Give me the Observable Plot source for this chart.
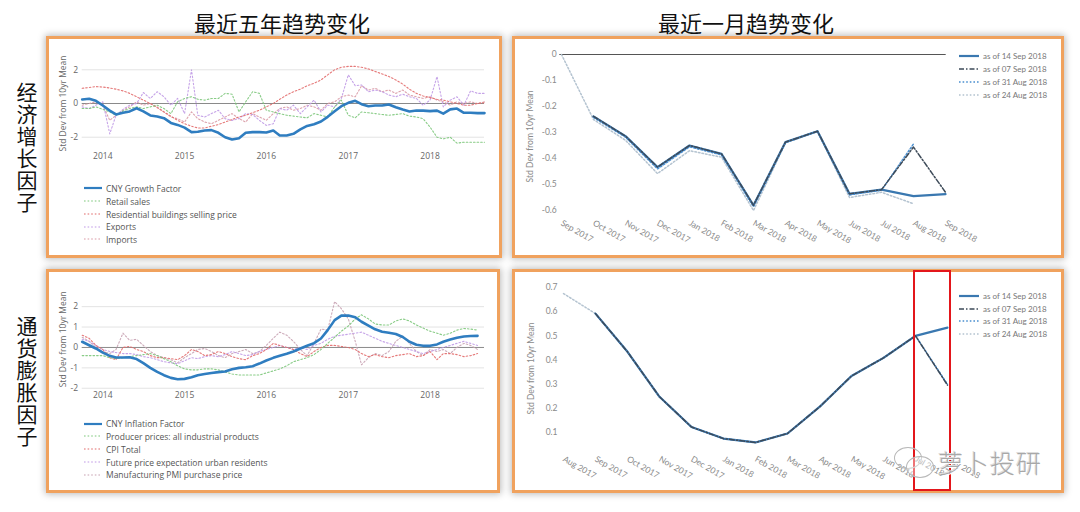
<!DOCTYPE html>
<html><head><meta charset="utf-8">
<script src="https://cdn.jsdelivr.net/npm/d3@7"></script>
<script src="https://cdn.jsdelivr.net/npm/@observablehq/plot@0.6"></script>
<style>
body{margin:0;width:1080px;height:512px;position:relative;background:#fff;overflow:hidden;font-family:"Noto Sans CJK SC",sans-serif}
.panel{position:absolute;box-sizing:border-box;border:3px solid #f0a25e;background:#fff;box-shadow:0 0 7px 1px rgba(0,0,0,0.28)}
.title{position:absolute;font-size:22px;line-height:28px;color:#111;text-align:center;width:220px}
.vlab{position:absolute;writing-mode:vertical-rl;text-orientation:upright;font-size:21px;letter-spacing:1px;color:#111;line-height:24px}
.leg{position:absolute;display:flex;align-items:center;white-space:nowrap;height:12px}
.leg svg{display:block}
</style></head><body>
<div class="title" style="left:172px;top:8px">最近五年趋势变化</div>
<div class="title" style="left:636px;top:8px">最近一月趋势变化</div>
<div class="vlab" style="left:15px;top:82px">经济增长因子</div>
<div class="vlab" style="left:15px;top:316px">通货膨胀因子</div>
<div class="panel" style="left:46px;top:36px;width:456px;height:222px"></div>
<div class="panel" style="left:512px;top:36px;width:552px;height:222px"></div>
<div class="panel" style="left:46px;top:269px;width:454px;height:224px"></div>
<div class="panel" style="left:512px;top:269px;width:552px;height:224px"></div>
<script>
// ---------- DATA ----------
const monthStart = new Date(Date.UTC(2013, 9, 1));   // Oct 2013
const monthEnd = new Date(Date.UTC(2018, 9, 1));     // exclusive -> Sep 2018
const months = d3.utcMonth.range(monthStart, monthEnd);
const yearTicks = [2014, 2015, 2016, 2017, 2018].map(y => new Date(Date.UTC(y, 0, 1)));

// Growth (5 years), Oct 2013 .. Sep 2018
const growthFactor = [0.24,0.28,0.16,
 -0.12,-0.42,-0.65,-0.55,-0.47,-0.28,-0.47,-0.71,-0.77,-0.87,-1.15,-1.27,
 -1.43,-1.7,-1.68,-1.6,-1.58,-1.74,-2.0,-2.14,-2.06,-1.74,-1.7,-1.7,
 -1.72,-1.6,-1.9,-1.9,-1.8,-1.54,-1.33,-1.23,-1.07,-0.79,-0.46,-0.16,
 0.04,0.16,-0.04,-0.16,-0.12,-0.12,-0.06,-0.22,-0.36,-0.47,-0.42,-0.42,
 -0.45,-0.42,-0.6,-0.35,-0.3,-0.55,-0.55,-0.57,-0.57];
const retailSales = [-0.3,-0.3,-0.2,
 -0.35,-0.5,-0.7,-0.45,-0.3,-0.2,-0.3,-0.2,-0.1,-0.3,-0.6,0.1,
 0.3,0.4,0.25,0.2,0.3,0.3,0.6,0.55,-0.5,0.1,0.7,0.6,
 -0.4,-0.5,-0.6,-0.7,-0.75,-0.8,-0.85,-0.6,-0.7,-0.8,-0.2,0.2,
 -0.7,-0.85,-0.5,-0.55,-0.6,-0.65,-0.7,-0.65,-0.6,-0.75,-0.8,-0.9,
 -1.4,-2.0,-2.1,-2.0,-2.35,-2.3,-2.3,-2.3,-2.3];
const residentialPrice = [0.9,0.95,1.0,
 0.98,0.92,0.85,0.75,0.6,0.4,0.2,0.0,-0.25,-0.5,-0.75,-1.0,
 -1.2,-1.35,-1.45,-1.45,-1.35,-1.25,-1.1,-0.95,-0.8,-0.7,-0.55,-0.4,
 -0.2,0.0,0.25,0.5,0.7,0.85,1.05,1.2,1.4,1.7,2.0,2.15,
 2.2,2.2,2.15,2.05,1.9,1.75,1.6,1.4,1.15,0.85,0.6,0.45,
 0.35,0.25,0.2,0.1,0.0,-0.1,-0.1,0.0,0.05];
const exportsS = [-0.2,-0.3,-0.1,
 0.1,-1.8,-0.7,-0.35,-0.1,0.0,0.65,0.3,0.7,0.4,-0.1,0.3,
 -0.6,2.0,-0.7,-0.8,-0.6,-0.4,-0.9,-1.0,-0.9,-0.6,-0.65,-1.0,
 -1.3,-1.2,-0.3,-0.4,-0.1,-0.6,-0.2,0.2,-0.5,-0.1,-0.2,0.3,
 1.7,1.05,1.1,0.7,0.8,0.7,0.5,0.4,0.55,0.4,0.3,-0.1,
 0.2,1.6,-0.2,0.2,0.4,-0.1,0.75,0.6,0.6];
const importsS = [-0.1,0.0,0.1,
 -0.1,-1.0,-0.7,-0.4,-0.2,0.1,-0.1,0.0,-0.2,-0.5,-0.8,-0.9,
 -1.1,-0.5,-0.9,-1.1,-1.2,-1.0,-0.8,-0.6,-0.9,-1.1,-0.6,-0.8,
 -1.0,-0.6,-0.3,-0.2,-0.4,-0.3,-0.1,-0.2,-0.4,0.0,0.1,0.4,
 0.5,0.4,1.05,0.8,0.9,0.7,0.8,0.6,0.8,0.5,0.4,0.3,
 0.4,0.2,0.1,-0.1,0.1,0.0,0.1,0.0,0.1];

// Inflation (5 years), Oct 2013 .. Aug 2018
const inflationFactor = [0.28,0.11,-0.05,
 -0.25,-0.41,-0.49,-0.49,-0.48,-0.57,-0.77,-1.0,-1.2,-1.36,-1.49,-1.56,
 -1.54,-1.46,-1.36,-1.3,-1.25,-1.21,-1.18,-1.07,-1.0,-0.97,-0.92,-0.79,
 -0.64,-0.51,-0.41,-0.31,-0.2,-0.05,0.08,0.21,0.44,0.85,1.34,1.56,
 1.57,1.48,1.26,1.07,0.89,0.77,0.72,0.66,0.51,0.28,0.13,0.08,
 0.08,0.15,0.28,0.39,0.48,0.54,0.56,0.57];
const producerPrices = [-0.4,-0.4,-0.4,
 -0.4,-0.5,-0.55,-0.5,-0.45,-0.4,-0.35,-0.3,-0.4,-0.55,-0.7,-0.9,
 -1.05,-1.1,-1.1,-1.05,-1.05,-1.1,-1.2,-1.3,-1.35,-1.35,-1.35,-1.35,
 -1.25,-1.15,-1.05,-0.9,-0.7,-0.6,-0.5,-0.35,-0.1,0.2,0.5,0.8,
 1.05,1.4,1.6,1.4,1.15,1.1,1.1,1.3,1.4,1.3,1.1,0.95,
 0.8,0.7,0.6,0.7,0.85,0.93,0.9,0.85];
const cpiTotal = [0.6,0.45,0.1,
 -0.1,-0.5,-0.6,0.0,0.05,-0.1,-0.2,-0.4,-0.5,-0.5,-0.55,-0.6,
 -0.4,-0.1,-0.2,-0.4,-0.35,-0.2,-0.3,-0.45,-0.55,-0.6,-0.4,-0.3,
 -0.1,0.2,0.1,0.0,-0.1,-0.3,-0.45,-0.2,0.0,0.1,0.1,0.05,
 0.0,-0.1,-0.3,-0.45,-0.35,-0.45,-0.5,-0.4,-0.35,-0.3,-0.45,-0.4,
 -0.2,-0.6,-0.3,-0.3,-0.35,-0.45,-0.4,-0.3];
const futurePriceExp = [0.4,0.3,0.1,
 -0.1,-0.2,-0.25,-0.3,-0.3,-0.35,-0.45,-0.5,-0.6,-0.7,-0.75,-0.8,
 -0.65,-0.5,-0.55,-0.45,-0.4,-0.45,-0.35,-0.2,-0.3,-0.4,-0.35,-0.2,
 -0.1,0.0,0.1,0.0,-0.1,0.0,-0.1,0.1,0.2,0.4,0.55,0.6,
 0.65,0.7,0.75,0.6,0.45,0.3,0.2,0.1,0.0,-0.1,-0.2,-0.3,
 -0.2,-0.1,0.0,0.1,0.2,0.3,0.2,0.1];
const pmiPurchase = [0.5,0.3,0.0,
 -0.2,-0.3,-0.1,0.7,0.35,0.4,0.1,-0.2,-0.4,-0.5,-0.6,-0.75,
 -0.5,-0.3,-0.1,-0.05,-0.2,-0.4,-0.5,-0.3,-0.2,-0.1,-0.3,-0.2,
 0.1,0.45,0.75,0.6,0.3,-0.1,-0.4,0.2,0.9,0.85,2.25,1.9,
 1.4,0.3,-0.85,-0.5,-0.3,-0.4,-0.2,0.3,0.55,0.2,-0.2,-0.4,
 -0.1,-0.2,-0.1,-0.3,0.0,0.2,0.1,-0.1];

// Last month (vintages)
const growthMonths = ["Sep 2017","Oct 2017","Nov 2017","Dec 2017","Jan 2018","Feb 2018","Mar 2018","Apr 2018","May 2018","Jun 2018","Jul 2018","Aug 2018","Sep 2018"];
const growth14Sep = [null,-0.238,-0.314,-0.433,-0.35,-0.382,-0.58,-0.337,-0.295,-0.536,-0.52,-0.545,-0.537];
const growth07Sep = [null,-0.238,-0.314,-0.433,-0.35,-0.382,-0.58,-0.337,-0.295,-0.536,-0.52,-0.356,-0.53];
const growth31Aug = [null,-0.242,-0.318,-0.44,-0.355,-0.386,-0.585,-0.338,-0.295,-0.54,-0.522,-0.344,null];
const growth24Aug = [0,-0.25,-0.33,-0.458,-0.37,-0.395,-0.6,-0.34,-0.296,-0.55,-0.53,-0.574,null];

const inflMonths = ["Aug 2017","Sep 2017","Oct 2017","Nov 2017","Dec 2017","Jan 2018","Feb 2018","Mar 2018","Apr 2018","May 2018","Jun 2018","Jul 2018","Aug 2018"];
const infl14Sep = [null,0.592,0.434,0.248,0.123,0.075,0.059,0.096,0.206,0.334,0.409,0.5,0.534];
const infl07Sep = [null,0.592,0.434,0.248,0.123,0.075,0.059,0.096,0.206,0.334,0.409,0.5,0.296];
const infl31Aug = [null,0.592,0.434,0.248,0.123,0.075,0.059,0.096,0.206,0.334,0.409,0.5,0.3];
const infl24Aug = [0.675,0.592,0.434,0.248,0.123,0.075,0.059,0.096,0.206,0.334,0.409,0.5,null];

// ---------- STYLES ----------
const dot = "1.6,2";
const fiveYearGrowth = [
  {name:"CNY Growth Factor", values:growthFactor, stroke:"#2f7dc0", w:2.6, dash:null},
  {name:"Retail sales", values:retailSales, stroke:"#7cc77a", w:1.1, dash:dot},
  {name:"Residential buildings selling price", values:residentialPrice, stroke:"#e26a6a", w:1.1, dash:dot},
  {name:"Exports", values:exportsS, stroke:"#c09ae6", w:1.1, dash:dot},
  {name:"Imports", values:importsS, stroke:"#d99aa5", w:1.1, dash:dot}
];
const fiveYearInfl = [
  {name:"CNY Inflation Factor", values:inflationFactor, stroke:"#2f7dc0", w:2.6, dash:null},
  {name:"Producer prices: all industrial products", values:producerPrices, stroke:"#7cc77a", w:1.1, dash:dot},
  {name:"CPI Total", values:cpiTotal, stroke:"#e26a6a", w:1.1, dash:dot},
  {name:"Future price expectation urban residents", values:futurePriceExp, stroke:"#c09ae6", w:1.1, dash:dot},
  {name:"Manufacturing PMI purchase price", values:pmiPurchase, stroke:"#c8a2b2", w:1.1, dash:dot}
];
const vintageStyles = [
  {name:"as of 14 Sep 2018", stroke:"#3a78b0", w:2.2, dash:null},
  {name:"as of 07 Sep 2018", stroke:"#3d4a58", w:1.5, dash:"5,2,1.5,2"},
  {name:"as of 31 Aug 2018", stroke:"#4a8fd0", w:1.5, dash:"1.6,2"},
  {name:"as of 24 Aug 2018", stroke:"#b4c3d0", w:1.5, dash:"1.6,2"}
];
const drawOrder = [3, 0, 2, 1]; // 24 Aug at bottom, 07 Sep on top

// ---------- HELPERS ----------
function place(el, left, top) {
  el.style.position = "absolute"; el.style.left = left + "px"; el.style.top = top + "px";
  document.body.appendChild(el);
}
function margins(svgL, svgT, w, h, f) {
  return {width:w, height:h, marginLeft:f.l - svgL, marginRight:svgL + w - f.r, marginTop:f.t - svgT, marginBottom:svgT + h - f.b};
}
function legend(items, x, ys, swW, gap, font, size, color) {
  items.forEach((it, i) => {
    const d = document.createElement("div");
    d.className = "leg";
    d.style.left = x + "px"; d.style.top = (ys[i] - 6) + "px";
    d.innerHTML = `<svg width="${swW}" height="12"><line x1="0" x2="${swW}" y1="6" y2="6" stroke="${it.stroke}" stroke-width="${Math.min(it.w, 2.2)}" ${it.dash ? `stroke-dasharray="${it.dash}"` : ""}/></svg>` +
      `<span style="margin-left:${gap}px;font-family:${font};font-size:${size}px;color:${color}">${it.name}</span>`;
    document.body.appendChild(d);
  });
}
function fiveYear(series, svgL, svgT, w, h, frame, yDomain, yTicks, gridTicks) {
  const marks = [
    Plot.gridY(gridTicks, {stroke:"#e3e3e3", strokeOpacity:1}),
    Plot.ruleY([0], {stroke:"#8a8a8a", strokeWidth:1}),
    Plot.axisY(yTicks, {tickSize:0, tickPadding:4, tickFormat:String, label:"Std Dev from 10yr Mean", labelAnchor:"center", labelArrow:"none", labelOffset:22}),
    Plot.axisX(yearTicks, {tickSize:0, tickPadding:2, tickFormat:d3.utcFormat("%Y"), label:null})
  ];
  series.slice().reverse().forEach(s => {
    const rows = s.values.map((v, i) => ({date:months[i], v})).filter(d => d.v != null);
    marks.push(Plot.line(rows, {x:"date", y:"v", stroke:s.stroke, strokeWidth:s.w, strokeOpacity:s.dash ? 0.9 : 1, strokeDasharray:s.dash || undefined}));
  });
  const svg = Plot.plot({
    ...margins(svgL, svgT, w, h, frame),
    x:{type:"utc", domain:[months[0], months[months.length - 1]]},
    y:{domain:yDomain},
    style:{fontFamily:"Open Sans", fontSize:"8.5px", color:"#666", background:"transparent", maxWidth:"none", overflow:"visible"},
    marks
  });
  place(svg, svgL, svgT);
}
function lastMonth(cats, vintages, svgL, svgT, w, h, frame, yDomain, yTicks, zeroRule) {
  const marks = [];
  if (zeroRule) marks.push(Plot.ruleY([0], {stroke:"#555", strokeWidth:1.2}));
  marks.push(Plot.axisY(yTicks, {tickSize:0, tickPadding:3, tickFormat:String, label:"Std Dev from 10yr Mean", labelAnchor:"center", labelArrow:"none", labelOffset:33}));
  marks.push(Plot.axisX(cats, {tickSize:0, tickPadding:4, tickRotate:30, label:null}));
  drawOrder.forEach(k => {
    const s = vintages[k];
    const rows = s.values.map((v, i) => ({cat:cats[i], v})).filter(d => d.v != null);
    marks.push(Plot.line(rows, {x:"cat", y:"v", stroke:s.stroke, strokeWidth:s.w, strokeDasharray:s.dash || undefined}));
  });
  const svg = Plot.plot({
    ...margins(svgL, svgT, w, h, frame),
    x:{type:"point", domain:cats, padding:0},
    y:{domain:yDomain},
    style:{fontFamily:"Lato", fontSize:"8.5px", color:"#8a8a8a", background:"transparent", maxWidth:"none", overflow:"visible"},
    marks
  });
  place(svg, svgL, svgT);
}

// ---------- CHARTS ----------
fiveYear(fiveYearGrowth, 50, 40, 445, 126, {l:81.7, r:484, t:55.8, b:150.2}, [-2.8, 2.8], [-2, 0, 2], [-2, 2]);
legend(fiveYearGrowth, 84, [188, 201, 214, 226.5, 239], 18, 4, "'Open Sans'", 8.5, "#555");

fiveYear(fiveYearInfl, 50, 275, 445, 130, {l:81.7, r:484, t:287.8, b:389.8}, [-2.1, 2.9], [-2, -1, 0, 1, 2], [-2, -1, 1, 2]);
legend(fiveYearInfl, 84, [423.7, 436.3, 449.3, 462, 474.7], 18, 4, "'Open Sans'", 8.5, "#555");

const growthVintages = [growth14Sep, growth07Sep, growth31Aug, growth24Aug].map((v, i) => ({...vintageStyles[i], values:v}));
lastMonth(growthMonths, growthVintages, 516, 42, 480, 212, {l:559.3, r:945.7, t:54, b:217.8}, [-0.63, 0], [-0.6, -0.5, -0.4, -0.3, -0.2, -0.1, 0], true);
legend(vintageStyles, 959, [55.7, 68.7, 81.7, 94.5], 20, 4, "Lato", 8, "#777");

const inflVintages = [infl14Sep, infl07Sep, infl31Aug, infl24Aug].map((v, i) => ({...vintageStyles[i], values:v}));
lastMonth(inflMonths, inflVintages, 516, 274, 480, 214, {l:560, r:949.3, t:282.2, b:453.8}, [0.01, 0.72], [0.1, 0.2, 0.3, 0.4, 0.5, 0.6, 0.7], false);
legend(vintageStyles, 959, [295.7, 308.7, 321, 333.7], 20, 4, "Lato", 8, "#777");

// ---------- ANNOTATIONS ----------
const red = document.createElement("div");
Object.assign(red.style, {position:"absolute", left:"913px", top:"270px", width:"38px", height:"221px", border:"2.5px solid #e3161b", boxSizing:"border-box"});
document.body.appendChild(red);

const b1 = document.createElement("div");
Object.assign(b1.style, {position:"absolute", left:"894px", top:"447px", width:"28px", height:"22px", border:"1.5px solid #b8b8b8", borderRadius:"50%", boxSizing:"border-box"});
document.body.appendChild(b1);
const b2 = document.createElement("div");
Object.assign(b2.style, {position:"absolute", left:"906px", top:"456px", width:"28px", height:"22px", border:"1.5px solid #b8b8b8", borderRadius:"50%", boxSizing:"border-box", background:"rgba(255,255,255,0.4)"});
document.body.appendChild(b2);
const wm = document.createElement("div");
wm.textContent = "萝卜投研";
Object.assign(wm.style, {position:"absolute", left:"938px", top:"446px", fontSize:"25px", lineHeight:"32px", color:"#a8a8a8", fontFamily:"'Noto Sans CJK SC'", fontWeight:"300", textShadow:"1px 1px 0 #fff, -1px -1px 0 #ddd", letterSpacing:"1px"});
document.body.appendChild(wm);
</script>
</body></html>
